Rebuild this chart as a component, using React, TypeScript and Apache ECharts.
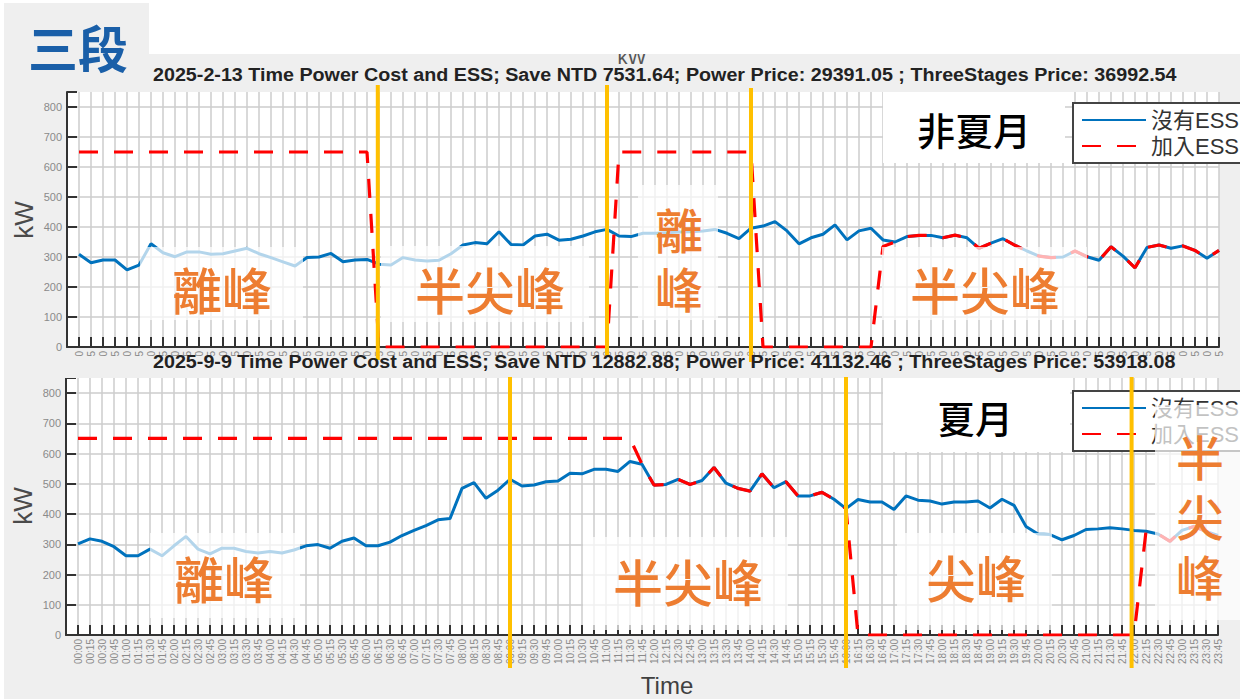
import React, { useEffect, useRef } from "react";
import * as echarts from "echarts";

// ---------- data ----------
const timeLabels: string[] = Array.from({ length: 96 }, (_, i) => {
  const h = Math.floor(i / 4);
  const m = (i % 4) * 15;
  return `${String(h).padStart(2, "0")}:${String(m).padStart(2, "0")}`;
});

const topTitle =
  "2025-2-13 Time Power Cost and ESS; Save NTD 7531.64; Power Price: 29391.05 ; ThreeStages Price: 36992.54";
const bottomTitle =
  "2025-9-9 Time Power Cost and ESS; Save NTD 12882.88; Power Price: 41132.46 ; ThreeStages Price: 53918.08";

const seriesNames = ["沒有ESS", "加入ESS"];

// 2025-2-13 (non-summer)
const topNoEss = [
  309, 281, 290, 290, 257, 273, 344, 314, 301, 317,
  317, 309, 311, 320, 329, 311, 298, 284, 270, 298,
  300, 312, 284, 290, 292, 276, 273, 298, 290, 287,
  289, 311, 340, 348, 344, 384, 342, 340, 370, 376,
  356, 359, 370, 384, 392, 370, 368, 379, 379, 381,
  383, 384, 387, 392, 379, 361, 396, 403, 418, 387,
  344, 364, 376, 407, 357, 387, 396, 357, 350, 368,
  372, 372, 364, 373, 364, 329, 346, 361, 339, 320,
  303, 298, 300, 320, 301, 289, 334, 303, 264, 332,
  340, 329, 337, 322, 296, 322,
];
const topWithEss = [
  650, 650, 650, 650, 650, 650, 650, 650, 650, 650,
  650, 650, 650, 650, 650, 650, 650, 650, 650, 650,
  650, 650, 650, 650, 650, 0, 0, 0, 0, 0,
  0, 0, 0, 0, 0, 0, 0, 0, 0, 0,
  0, 0, 0, 0, 0, 650, 650, 650, 650, 650,
  650, 650, 650, 650, 650, 650, 650, 0, 0, 0,
  0, 0, 0, 0, 0, 0, 0, 335, 350, 368,
  372, 372, 364, 373, 364, 329, 346, 361, 339, 320,
  303, 298, 300, 320, 301, 289, 334, 303, 264, 332,
  340, 329, 337, 322, 296, 322,
];

// 2025-9-9 (summer)
const bottomNoEss = [
  301, 318, 310, 292, 262, 262, 284, 262, 295, 326,
  284, 268, 287, 287, 276, 271, 276, 271, 281, 295,
  299, 287, 310, 321, 295, 295, 307, 329, 346, 362,
  381, 385, 485, 504, 452, 479, 515, 493, 496, 507,
  509, 535, 533, 548, 548, 541, 574, 565, 496, 498,
  515, 498, 511, 554, 502, 485, 476, 533, 487, 507,
  460, 460, 472, 449, 418, 448, 440, 440, 415, 460,
  446, 443, 433, 440, 440, 443, 420, 449, 429, 359,
  334, 332, 315, 329, 349, 351, 355, 351, 346, 343,
  334, 310, 346, 359, 343, 329,
];
const bottomWithEss = [
  650, 650, 650, 650, 650, 650, 650, 650, 650, 650,
  650, 650, 650, 650, 650, 650, 650, 650, 650, 650,
  650, 650, 650, 650, 650, 650, 650, 650, 650, 650,
  650, 650, 650, 650, 650, 650, 650, 650, 650, 650,
  650, 650, 650, 650, 650, 650, 650, 565, 496, 498,
  515, 498, 511, 554, 502, 485, 476, 533, 487, 507,
  460, 460, 472, 449, 418, 0, 0, 0, 0, 0,
  0, 0, 0, 0, 0, 0, 0, 0, 0, 0,
  0, 0, 0, 0, 0, 0, 0, 0, 0, 343,
  334, 310, 346, 359, 343, 329,
];

// period boundaries (x positions in the axis' units, as drawn by the author)
const topBoundaries = [25.9, 45, 57];
const bottomBoundaries = [37, 65, 88.8];

// ---------- styles ----------
const FONT = '"Liberation Sans", Arial, sans-serif';
const CJK = '"Noto Sans CJK TC", "Noto Sans CJK SC", sans-serif';
const LEGEND_FONT = '"Liberation Sans", "Noto Sans CJK TC", sans-serif';
const BLUE = "#0072BD";
const RED = "#FF0000";
const ORANGE = "#ED7D31";
const GOLD = "#FFC000";
const GRID_COLOR = "#cdcdcd";
const AXIS_COLOR = "#333333";
const NOTE_WEIGHT = "500";

const makeX = (gridIndex: number) => ({
  type: "value",
  gridIndex,
  min: 0,
  max: 96,
  interval: 1,
  axisLine: { show: true, onZero: false, lineStyle: { color: AXIS_COLOR, width: 2 } },
  axisTick: { show: true, inside: true, length: 10, lineStyle: { color: AXIS_COLOR, width: 2 } },
  axisLabel: {
    show: true,
    rotate: 90,
    fontSize: 10,
    color: "#8a8a8a",
    margin: 4,
    fontFamily: FONT,
    hideOverlap: false,
    formatter: (v: number) =>
      Number.isInteger(v) && v >= 1 && v <= 96 ? timeLabels[v - 1] : "",
  },
  splitLine: { show: true, showMinLine: false, lineStyle: { color: GRID_COLOR, width: 1.5 } },
});

const makeY = (gridIndex: number) => ({
  type: "value",
  gridIndex,
  min: 0,
  max: 850,
  interval: 100,
  axisLine: { show: true, onZero: false, lineStyle: { color: AXIS_COLOR, width: 2 } },
  axisTick: { show: true, inside: true, length: 10, lineStyle: { color: AXIS_COLOR, width: 2 } },
  axisLabel: {
    show: true,
    fontSize: 11,
    color: "#8a8a8a",
    margin: 5,
    fontFamily: FONT,
    formatter: (v: number) => (v % 100 === 0 ? String(v) : ""),
  },
  splitLine: { show: true, showMaxLine: false, lineStyle: { color: GRID_COLOR, width: 1.5 } },
});

const toPairs = (arr: number[]) => arr.map((v, i) => [i + 1, v]);

const makeLegend = (top: number) => ({
  show: true,
  orient: "vertical",
  left: 1073,
  top,
  data: seriesNames,
  backgroundColor: "#ffffff",
  borderColor: "#444444",
  borderWidth: 2,
  borderRadius: 0,
  padding: [6, 8, 6, 8],
  itemGap: 4,
  itemWidth: 64,
  itemHeight: 22,
  selectedMode: false,
  itemStyle: { opacity: 0, borderWidth: 0 },
  textStyle: { fontSize: 22, color: "#333333", fontFamily: LEGEND_FONT },
});

const lineSeries = (name: string, data: number[], idx: number, dashed: boolean) => ({
  name,
  type: "line",
  xAxisIndex: idx,
  yAxisIndex: idx,
  data: toPairs(data),
  symbol: "none",
  showSymbol: false,
  silent: true,
  z: dashed ? 3 : 2,
  itemStyle: { color: dashed ? RED : BLUE },
  lineStyle: dashed
    ? { color: RED, width: 3.2, type: [19, 16] }
    : { color: BLUE, width: 3 },
});

// annotation boxes: [x, y, w, h, opacity]
type Note = { box: number[]; text: string; cx: number; cy: number; size: number; color: string; lh?: number };
const notes: Note[] = [
  { box: [140, 247, 163, 73, 0.7], text: "離峰", cx: 222, cy: 288, size: 50, color: ORANGE },
  { box: [381, 246, 208, 76, 0.7], text: "半尖峰", cx: 490, cy: 288, size: 50, color: ORANGE },
  { box: [638, 185, 80, 135, 0.7], text: "離\n峰", cx: 679, cy: 257, size: 48, color: ORANGE, lh: 59 },
  { box: [882, 247, 205, 73, 0.7], text: "半尖峰", cx: 985, cy: 288, size: 50, color: ORANGE },
  { box: [883, 92, 182, 71, 1], text: "非夏月", cx: 974, cy: 128, size: 38, color: "#000000" },
  { box: [150, 533, 150, 85, 0.7], text: "離峰", cx: 224, cy: 577, size: 50, color: ORANGE },
  { box: [583, 537, 205, 93, 0.7], text: "半尖峰", cx: 688, cy: 580, size: 50, color: ORANGE },
  { box: [897, 533, 155, 97, 0.7], text: "尖峰", cx: 976, cy: 576, size: 50, color: ORANGE },
  { box: [1155, 405, 85, 215, 0.7], text: "半\n尖\n峰", cx: 1200, cy: 515, size: 48, color: ORANGE, lh: 60 },
  { box: [883, 378, 187, 74, 1], text: "夏月", cx: 975, cy: 416, size: 38, color: "#000000" },
];

// vertical extents of the boundary lines (pixels)
const topLineSpans = [[85, 360], [85, 357], [88, 362]];
const bottomLineSpans = [[377, 668], [377, 668], [377, 668]];

const rect = (x: number, y: number, w: number, h: number, fill: string, z: number, opacity = 1) => ({
  type: "rect",
  silent: true,
  z,
  shape: { x, y, width: w, height: h },
  style: { fill, opacity },
});

const text = (
  x: number,
  y: number,
  str: string,
  size: number,
  color: string,
  family: string,
  weight: string,
  z: number,
  align = "center",
  extra: any = {}
) => {
  const { lineHeight, ...rest } = extra;
  return {
    type: "text",
    silent: true,
    z,
    x,
    y,
    ...rest,
    style: {
      text: str,
      fill: color,
      fontSize: size,
      fontFamily: family,
      fontWeight: weight,
      align,
      textAlign: align,
      verticalAlign: "middle",
      textVerticalAlign: "middle",
      ...(lineHeight ? { lineHeight } : {}),
    },
  };
};

export default function App() {
  const ref = useRef<HTMLDivElement>(null);

  useEffect(() => {
    if (!ref.current) return;
    document.body.style.margin = "0";
    const chart = echarts.init(ref.current, undefined, { renderer: "svg" });

    const option: any = {
      animation: false,
      backgroundColor: "#efefef",
      grid: [
        { left: 67, top: 92, width: 1152, height: 255, show: true, backgroundColor: "#ffffff", borderWidth: 0, outerBoundsMode: "none", containLabel: false },
        { left: 66, top: 378, width: 1152, height: 257, show: true, backgroundColor: "#ffffff", borderWidth: 0, outerBoundsMode: "none", containLabel: false },
      ],
      xAxis: [makeX(0), makeX(1)],
      yAxis: [makeY(0), makeY(1)],
      legend: [makeLegend(103), makeLegend(391)],
      tooltip: { show: false },
      series: [
        lineSeries(seriesNames[0], topNoEss, 0, false),
        lineSeries(seriesNames[1], topWithEss, 0, true),
        lineSeries(seriesNames[0], bottomNoEss, 1, false),
        lineSeries(seriesNames[1], bottomWithEss, 1, true),
      ],
    };
    chart.setOption(option);

    const els: any[] = [];
    // page / figure background pieces
    els.push(rect(0, 0, 1240, 54, "#ffffff", 5));
    els.push(rect(0, 0, 4, 699, "#ffffff", 5));
    els.push(rect(4, 3, 145, 85, "#efefef", 6));
    els.push(text(78, 46, "三段", 50, "#1a5fa8", CJK, "bold", 7));
    // stray, half-hidden axis label at the top
    els.push(text(632, 57, "kW", 20, "#555555", FONT, "normal", 4));
    // band hiding the top chart's tick labels under the second title
    els.push(rect(4, 356, 1236, 22, "#efefef", 30));
    // titles
    els.push(text(153, 75, topTitle, 18.5, "#222222", FONT, "bold", 50, "left", { scaleX: 1.065 }));
    els.push(text(153, 362, bottomTitle, 18.5, "#222222", FONT, "bold", 50, "left", { scaleX: 1.065 }));
    // axis names
    els.push(text(24, 220, "kW", 26, "#4a4a4a", FONT, "normal", 50, "center", { rotation: Math.PI / 2 }));
    els.push(text(23, 506, "kW", 26, "#4a4a4a", FONT, "normal", 50, "center", { rotation: Math.PI / 2 }));
    els.push(text(667, 685, "Time", 24, "#404040", FONT, "normal", 50));
    // annotation boxes and labels
    notes.forEach((n) => {
      const [x, y, w, h, op] = n.box;
      els.push(rect(x, y, w, h, "#ffffff", 40, op));
      els.push(
        text(n.cx, n.cy, n.text, n.size, n.color, CJK, NOTE_WEIGHT, 41, "center", n.lh ? { lineHeight: n.lh } : {})
      );
    });
    // period boundary lines, positioned through the axes
    topBoundaries.forEach((v, i) => {
      const x = chart.convertToPixel({ xAxisIndex: 0 } as any, v) as unknown as number;
      const [y1, y2] = topLineSpans[i];
      els.push({ type: "line", silent: true, z: 45, shape: { x1: x, y1, x2: x, y2 }, style: { stroke: GOLD, lineWidth: 4 } });
    });
    bottomBoundaries.forEach((v, i) => {
      const x = chart.convertToPixel({ xAxisIndex: 1 } as any, v) as unknown as number;
      const [y1, y2] = bottomLineSpans[i];
      els.push({ type: "line", silent: true, z: 45, shape: { x1: x, y1, x2: x, y2 }, style: { stroke: GOLD, lineWidth: 4 } });
    });

    chart.setOption({ graphic: { elements: els } });

    return () => chart.dispose();
  }, []);

  return <div ref={ref} style={{ width: 1240, height: 699 }} />;
}
